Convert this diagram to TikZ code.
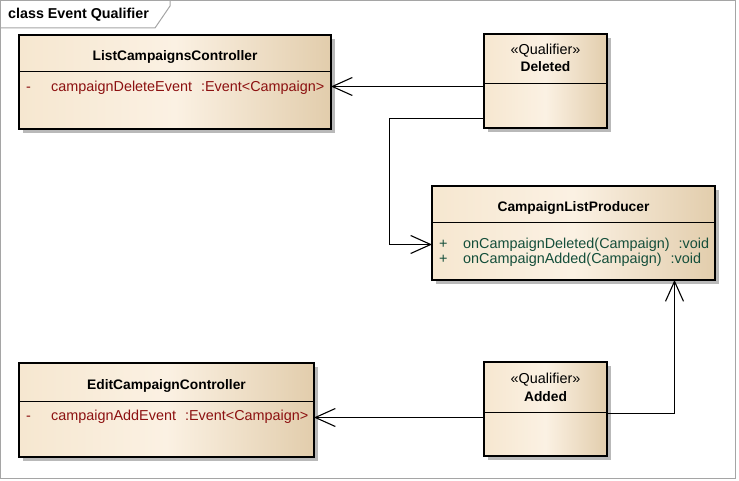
\documentclass[tikz,border=0pt]{standalone}
\usepackage{fontspec}
\setmainfont{Liberation Sans}
\usetikzlibrary{arrows.meta,shadows}
\definecolor{frameg}{RGB}{165,165,165}
\definecolor{boxL}{RGB}{246,231,208}
\definecolor{boxM}{RGB}{251,241,227}
\definecolor{boxR}{RGB}{226,205,172}
\definecolor{attrred}{RGB}{140,16,16}
\definecolor{opgreen}{RGB}{20,78,58}
\definecolor{shadowg}{RGB}{185,185,185}
\newcommand\umlB{\fontsize{13.8}{16}\selectfont\bfseries}
\newcommand\umlT{\fontsize{14.3}{16}\selectfont\bfseries}
\newcommand\umlR{\fontsize{14.4}{17}\selectfont}
\begin{document}
\begin{tikzpicture}[x=1pt,y=-1pt,
  umlbox/.style={draw=black, line width=1.3pt, left color=boxL, right color=boxR, middle color=boxM,
    general shadow={fill=shadowg, shadow xshift=4pt, shadow yshift=-4pt},
    inner sep=0pt, outer sep=0pt, anchor=north west},
  divider/.style={draw=black, line width=1pt},
  ttl/.style={font=\umlB, inner sep=0pt, anchor=base},
  stereo/.style={font=\umlR, inner sep=0pt, anchor=base},
  attr/.style={font=\umlR, text=attrred, inner sep=0pt, anchor=base west},
  oper/.style={font=\umlR, text=opgreen, inner sep=0pt, anchor=base west},
  conn/.style={draw=black, line width=1.1pt, -{Straight Barb[length=20pt,width=18pt,line width=1.1pt]}},
  framebox/.style={draw=frameg, line width=1pt}
]
\useasboundingbox (0,0) rectangle (739,481);
% frame
\draw[framebox] (0.5,0.5) rectangle (735.5,478.5);
\draw[framebox] (0.5,28) -- (155,28) -- (170,6) -- (170,0.5);
\node[font=\umlT, inner sep=0pt, anchor=base west] (frtitle) at (8,19) {class Event Qualifier};

% boxes
\node[umlbox, minimum width=312pt, minimum height=94pt] (lcc) at (19,35) {};
\node[umlbox, minimum width=123pt, minimum height=94pt] (del) at (484,34) {};
\node[umlbox, minimum width=283pt, minimum height=94pt] (clp) at (432,186) {};
\node[umlbox, minimum width=295pt, minimum height=94pt] (ecc) at (19,363) {};
\node[umlbox, minimum width=123pt, minimum height=94pt] (add) at (484,362) {};

% dividers
\draw[divider] ([yshift=-37pt]lcc.north west) -- ([yshift=-37pt]lcc.north east);
\draw[divider] ([yshift=-50pt]del.north west) -- ([yshift=-50pt]del.north east);
\draw[divider] ([yshift=-37pt]clp.north west) -- ([yshift=-37pt]clp.north east);
\draw[divider] ([yshift=-38pt]ecc.north west) -- ([yshift=-38pt]ecc.north east);
\draw[divider] ([yshift=-50pt]add.north west) -- ([yshift=-50pt]add.north east);

% texts
\node[ttl] (lcct) at (175,61) {ListCampaignsController};
\node[attr] (lccv) at (26,92) {-};
\node[attr] (lcca) at (51,92) {campaignDeleteEvent\hspace{9pt}:Event<Campaign>};

\node[stereo] (dels) at (545.5,55) {«Qualifier»};
\node[ttl] (delt) at (545.5,72) {Deleted};

\node[ttl] (clpt) at (573.5,212) {CampaignListProducer};
\node[oper] (clpv1) at (439,248) {+};
\node[oper] (clpo1) at (463,248) {onCampaignDeleted(Campaign)\hspace{9pt}:void};
\node[oper] (clpv2) at (439,264) {+};
\node[oper] (clpo2) at (463,264) {onCampaignAdded(Campaign)\hspace{9pt}:void};

\node[ttl] (ecct) at (166.5,389) {EditCampaignController};
\node[attr] (eccv) at (26,420) {-};
\node[attr] (ecca) at (51,420) {campaignAddEvent\hspace{9pt}:Event<Campaign>};

\node[stereo] (adds) at (545.5,383) {«Qualifier»};
\node[ttl] (addt) at (545.5,401) {Added};

% connectors
\coordinate (c1) at ([yshift=-5.5pt]del.west);
\draw[conn] (c1) -- (c1 -| lcc.east);
\coordinate (c2) at ([yshift=-37.5pt]del.west);
\coordinate (c2e) at ([yshift=-11.5pt]clp.west);
\draw[conn] (c2) -- ++(-94.5,0) |- (c2e);
\coordinate (c3) at ([yshift=-8.5pt]add.west);
\draw[conn] (c3) -- (c3 -| ecc.east);
\coordinate (c4) at ([yshift=-4.5pt]add.east);
\coordinate (c4e) at ([xshift=101pt]clp.south);
\draw[conn] (c4) -| (c4e);
\end{tikzpicture}
\end{document}
